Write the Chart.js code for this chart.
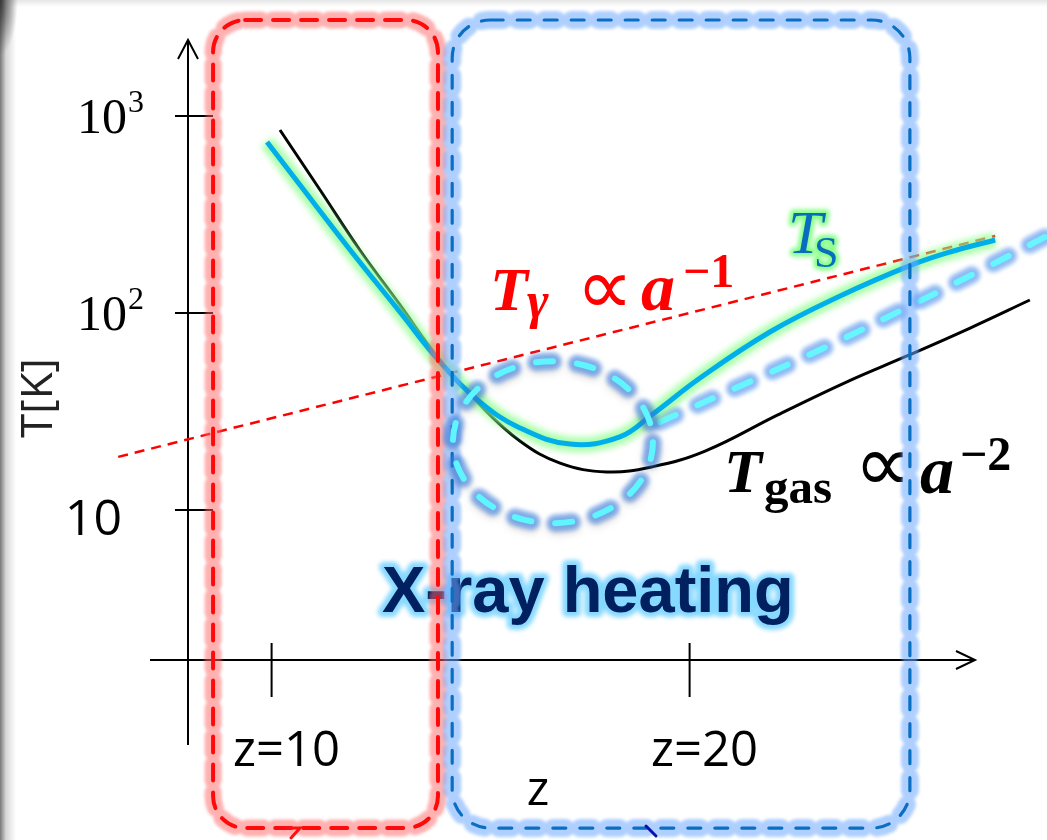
<!DOCTYPE html>
<html>
<head>
<meta charset="utf-8">
<script src="https://cdn.jsdelivr.net/npm/chart.js@4.4.0/dist/chart.umd.min.js"></script>
<style>
  html, body { margin: 0; padding: 0; background: #fff; overflow: hidden; }
  canvas {
    display: block;
    background:
      radial-gradient(ellipse 18px 55px at 0 0, rgba(30,30,30,0.75), rgba(30,30,30,0) 100%),
      linear-gradient(to right, rgba(120,120,120,1) 0px, rgba(205,205,205,0.8) 6px, rgba(255,255,255,0) 16px),
      linear-gradient(to bottom, #e6e6e6 0px, #ffffff 7px);
  }
</style>
</head>
<body>
<canvas id="chart" width="1047" height="840"></canvas>
<script>
// redshift (x) and temperature in K (y)
const zGas = [10.20, 11.16, 12.11, 13.07, 14.03, 14.99, 15.94, 16.90, 18.02, 19.12, 20.37, 22.11, 23.79, 25.20, 26.71, 28.14];
const tGas = [849, 421, 208.8, 109.8, 57.7, 34.1, 22.4, 17.3, 15.6, 16.6, 19.9, 30.4, 45.0, 60.5, 83.9, 116.4];

const zSpin = [9.89, 10.68, 11.88, 13.07, 14.03, 14.99, 15.94, 17.14, 18.33, 19.12, 20.25, 21.92, 23.60, 25.27, 26.23, 27.31];
const tSpin = [738, 446, 208.8, 101.2, 56.4, 35.3, 26.1, 21.6, 23.5, 30.7, 46.8, 80.1, 122, 174, 204, 234.8];

const zCmb = [6.33, 27.31];
const tCmb = [18.6, 246];

// alternative spin temperature without the heating bump (dashed)
const zSpinAlt = [19.29, 21.21, 23.36, 25.46, 27.07, 28.55];
const tSpinAlt = [28.0, 42.6, 68.8, 113.7, 169.2, 246];

// shaded epochs (z ranges) and the highlighted dip
const redEpoch = [8.60, 13.98];
const blueEpoch = [14.32, 25.27];
const epochT = [0.243, 3071];
const dipCenter = [16.73, 22.1];

const yTicks = [10, 100, 1000];
const yTickBase = ["10", "10", "10"];
const yTickExp = ["", "2", "3"];
const xTicks = [10, 20];
const xTickLabels = ["z=10", "z=20"];

const pts = (xs, ys) => xs.map((x, i) => ({ x: x, y: ys[i] }));

function dashedGlowPath(ctx, buildPath, dash, width, color, glowWidth, glowColor, blur, cap) {
  ctx.save();
  ctx.setLineDash(dash);
  ctx.lineCap = 'round';
  ctx.filter = 'blur(' + blur + 'px)';
  ctx.lineWidth = glowWidth;
  ctx.strokeStyle = glowColor;
  buildPath(); ctx.stroke();
  ctx.filter = 'none';
  ctx.shadowColor = 'rgba(0,0,0,0)';
  ctx.lineCap = cap || 'butt';
  ctx.lineWidth = width;
  ctx.strokeStyle = color;
  buildPath(); ctx.stroke();
  ctx.restore();
}

function txt(ctx, s, x, y, font, fill, glow, glowW, blur) {
  ctx.save();
  ctx.font = font;
  ctx.textBaseline = 'alphabetic';
  if (glow) {
    ctx.filter = 'blur(' + (blur || 2) + 'px)';
    ctx.lineJoin = 'round';
    ctx.lineWidth = glowW || 8;
    ctx.strokeStyle = glow;
    ctx.strokeText(s, x, y);
    ctx.filter = 'none';
  }
  ctx.fillStyle = fill;
  ctx.fillText(s, x, y);
  ctx.restore();
}

const overlay = {
  id: 'overlay',
  beforeDatasetsDraw(chart) {
    const ctx = chart.ctx, xs = chart.scales.x, ys = chart.scales.y, a = chart.chartArea;
    ctx.save();
    ctx.strokeStyle = '#000';
    ctx.lineWidth = 2;
    ctx.beginPath();
    // y axis
    ctx.moveTo(a.left, a.bottom + 85); ctx.lineTo(a.left, a.top);
    ctx.moveTo(a.left - 10, a.top + 19); ctx.lineTo(a.left, a.top); ctx.lineTo(a.left + 10, a.top + 19);
    // x axis
    const xEnd = 975;
    ctx.moveTo(a.left - 38, a.bottom); ctx.lineTo(xEnd, a.bottom);
    ctx.moveTo(xEnd - 19, a.bottom - 9); ctx.lineTo(xEnd, a.bottom); ctx.lineTo(xEnd - 19, a.bottom + 9);
    // ticks
    yTicks.forEach(v => {
      const y = ys.getPixelForValue(v);
      ctx.moveTo(a.left - 13, y); ctx.lineTo(a.left + 25, y);
    });
    xTicks.forEach(v => {
      const x = xs.getPixelForValue(v);
      ctx.moveTo(x, a.bottom - 17); ctx.lineTo(x, a.bottom + 37);
    });
    ctx.stroke();
    ctx.restore();

    // tick labels
    yTicks.forEach((v, i) => {
      const y = ys.getPixelForValue(v);
      if (yTickExp[i]) {
        ctx.save(); ctx.textAlign = 'right';
        txt(ctx, yTickBase[i], a.left - 61, y + 17, '50px "Liberation Serif"', '#000');
        ctx.restore();
        txt(ctx, yTickExp[i], a.left - 60, y - 4, '32px "Liberation Serif"', '#000');
      } else {
        ctx.save(); ctx.textAlign = 'right';
        txt(ctx, yTickBase[i], a.left - 66, y + 25, '50px "Open Sans"', '#000');
        ctx.restore();
      }
    });
    xTicks.forEach((v, i) => {
      const x = xs.getPixelForValue(v);
      ctx.save(); ctx.textAlign = 'center';
      txt(ctx, xTickLabels[i], x + 15, a.bottom + 106, '49px "Open Sans"', '#000');
      ctx.restore();
    });
    ctx.save(); ctx.textAlign = 'center';
    txt(ctx, 'z', 538, 805, '48px "Open Sans"', '#000');
    ctx.restore();
    ctx.save();
    ctx.translate(52, 398); ctx.rotate(-Math.PI / 2);
    ctx.textAlign = 'center';
    txt(ctx, 'T[K]', 0, 0, '44px "Open Sans"', '#222');
    ctx.restore();
  },
  beforeDatasetDraw(chart, args) {
    const ds = chart.data.datasets[args.index];
    chart.ctx.save();
    if (ds.blur) chart.ctx.filter = 'blur(' + ds.blur + 'px)';
  },
  afterDatasetDraw(chart) {
    chart.ctx.restore();
  },
  afterDatasetsDraw(chart) {
    const ctx = chart.ctx, xs = chart.scales.x, ys = chart.scales.y;

    // labels
    txt(ctx, 'T', 490, 310, 'bold italic 62px "Liberation Serif"', '#ff0000');
    txt(ctx, 'γ', 527, 318, 'bold italic 52px "Liberation Serif"', '#ff0000');
    txt(ctx, '∝', 576, 314, '80px "DejaVu Sans"', '#ff0000');
    txt(ctx, 'a', 641, 310, 'bold italic 68px "Liberation Serif"', '#ff0000');
    txt(ctx, '−1', 683, 287, 'bold 48px "Liberation Serif"', '#ff0000');

    txt(ctx, 'T', 788, 253, 'italic 62px "Liberation Serif"', '#0a6cbe', 'rgba(120,255,120,0.9)', 7, 2);
    txt(ctx, 'S', 814, 267, '44px "Liberation Serif"', '#0a6cbe', 'rgba(120,255,120,0.9)', 7, 2);

    txt(ctx, 'T', 724, 492, 'bold italic 62px "Liberation Serif"', '#000');
    txt(ctx, 'gas', 764, 503, 'bold 49px "Liberation Serif"', '#000');
    txt(ctx, '∝', 854, 491, '80px "DejaVu Sans"', '#000');
    txt(ctx, 'a', 920, 493, 'bold italic 68px "Liberation Serif"', '#000');
    txt(ctx, '−2', 960, 470, 'bold 48px "Liberation Serif"', '#000');

    txt(ctx, 'X-ray heating', 382, 612, 'bold 65px "Liberation Sans"', '#002060', 'rgba(130,215,255,0.95)', 10, 2);

    // epoch boxes
    const yTop = ys.getPixelForValue(epochT[1]), yBot = ys.getPixelForValue(epochT[0]);
    const rx0 = xs.getPixelForValue(redEpoch[0]), rx1 = xs.getPixelForValue(redEpoch[1]);
    const bx0 = xs.getPixelForValue(blueEpoch[0]), bx1 = xs.getPixelForValue(blueEpoch[1]);
    dashedGlowPath(ctx, () => { ctx.beginPath(); ctx.roundRect(rx0, yTop, rx1 - rx0, yBot - yTop, 32); },
      [16, 12], 4, '#ff0a0a', 17, 'rgba(255,100,100,0.5)', 1.5, 'round');
    dashedGlowPath(ctx, () => { ctx.beginPath(); ctx.roundRect(bx0, yTop, bx1 - bx0, yBot - yTop, 38); },
      [13, 14], 3.2, '#0a6fc2', 18, 'rgba(110,170,255,0.55)', 1.5, 'round');

    // small stray marks at the bottom edge
    ctx.save();
    ctx.lineWidth = 3; ctx.lineCap = 'round';
    ctx.strokeStyle = '#ff1010';
    ctx.beginPath(); ctx.moveTo(286, 828); ctx.lineTo(300, 828); ctx.lineTo(291, 838); ctx.stroke();
    ctx.strokeStyle = '#0a10b0';
    ctx.beginPath(); ctx.moveTo(646, 826); ctx.lineTo(656, 836); ctx.stroke();
    ctx.restore();

    // dip circle
    const cx = xs.getPixelForValue(dipCenter[0]), cy = ys.getPixelForValue(dipCenter[1]);
    ctx.save();
    ctx.shadowColor = 'rgba(0,0,0,0.25)'; ctx.shadowBlur = 6; ctx.shadowOffsetY = 3;
    dashedGlowPath(ctx, () => { ctx.beginPath(); ctx.ellipse(cx, cy, 100, 81, 0, 0, Math.PI * 2); },
      [17, 24], 6, '#5ff5ff', 17, 'rgba(60,130,230,0.6)', 2, 'round');
    ctx.restore();
  }
};

new Chart(document.getElementById('chart'), {
  type: 'line',
  data: {
    datasets: [
      { label: 'T_S', data: pts(zSpin, tSpin), borderColor: '#00aeea', borderWidth: 5, tension: 0.4, clip: false },
      { label: 'T_S glow', data: pts(zSpin, tSpin), borderColor: 'rgba(140,255,140,0.75)', borderWidth: 15, tension: 0.4, clip: false, blur: 3 },
      { label: 'T_S no heating', data: pts(zSpinAlt, tSpinAlt), borderColor: '#66f6ff', borderWidth: 6, borderDash: [17, 24], borderCapStyle: 'round', tension: 0.4, clip: false },
      { label: 'T_S no heating glow', data: pts(zSpinAlt, tSpinAlt), borderColor: 'rgba(70,140,235,0.6)', borderWidth: 17, borderDash: [17, 24], borderCapStyle: 'round', tension: 0.4, clip: false, blur: 2 },
      { label: 'T_gas', data: pts(zGas, tGas), borderColor: '#000', borderWidth: 3, tension: 0.4, clip: false },
      { label: 'T_gamma', data: pts(zCmb, tCmb), borderColor: '#ff0000', borderWidth: 2.5, borderDash: [10, 7], clip: false }
    ]
  },
  options: {
    responsive: false,
    animation: false,
    devicePixelRatio: 1,
    layout: { padding: { left: 188, right: 0, top: 40, bottom: 180 } },
    elements: { point: { radius: 0 } },
    plugins: { legend: { display: false }, tooltip: { enabled: false } },
    scales: {
      x: { type: 'linear', min: 8, max: 28.55, bounds: 'data', display: false },
      y: { type: 'logarithmic', min: 1.732, max: 2431, bounds: 'data', display: false }
    }
  },
  plugins: [overlay]
});
</script>
</body>
</html>
